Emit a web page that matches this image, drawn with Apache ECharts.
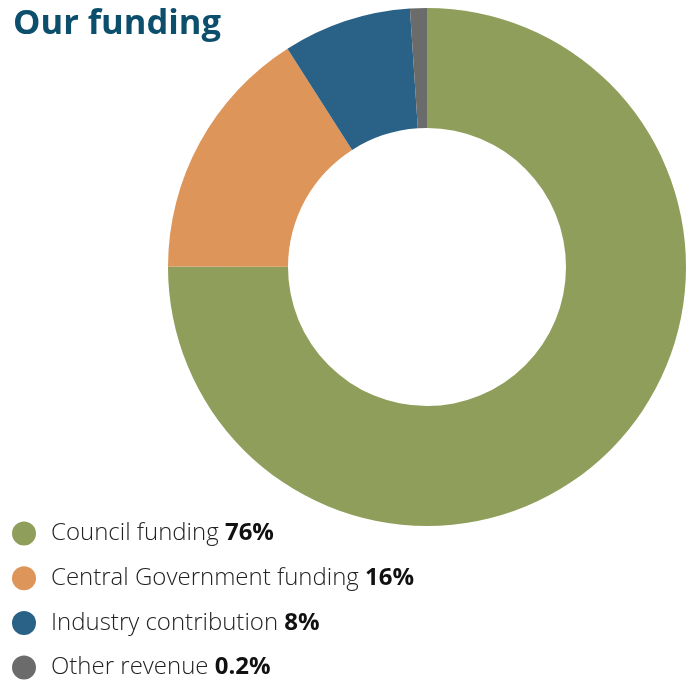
<!DOCTYPE html>
<html>
<head>
<meta charset="utf-8">
<script src="https://cdn.jsdelivr.net/npm/echarts@6/dist/echarts.min.js"></script>
<style>html,body{margin:0;padding:0;background:#fff;}#c{width:694px;height:680px;}</style>
</head>
<body>
<div id="c"></div>
<script>
const categories = ['Council funding', 'Central Government funding', 'Industry contribution', 'Other revenue'];
const drawnValues = [75, 15.9, 8.0, 1.05];
const labelPercents = ['76%', '16%', '8%', '0.2%'];
const colors = ['#8f9e5a', '#dd955a', '#2a6186', '#6b6b6b'];

const chart = echarts.init(document.getElementById('c'));
chart.setOption({
  animation: false,
  title: {
    text: 'Our funding',
    left: 8, top: 2,
    textStyle: { fontFamily: 'Open Sans', fontWeight: 'bold', fontSize: 34.5, color: '#0b4f6c' }
  },
  legend: {
    orient: 'vertical',
    left: 12, top: 521.5,
    height: 170,
    padding: 0,
    icon: 'circle',
    itemWidth: 24, itemHeight: 24,
    itemGap: 20.7,
    data: categories,
    formatter: function (name) {
      const i = categories.indexOf(name);
      return '{n|' + name + ' }{p|' + labelPercents[i] + '}';
    },
    textStyle: {
      rich: {
        n: { fontFamily: 'Open Sans', fontWeight: 300, fontSize: 24, color: '#222', padding: [0, 0, 0, 10] },
        p: { fontFamily: 'Open Sans', fontWeight: 'bold', fontSize: 24, color: '#111' }
      }
    }
  },
  series: [{
    type: 'pie',
    center: [427, 267],
    radius: [139, 259],
    startAngle: 90,
    clockwise: true,
    label: { show: false },
    labelLine: { show: false },
    emphasis: { disabled: true },
    data: categories.map((c, i) => ({ name: c, value: drawnValues[i], itemStyle: { color: colors[i] } }))
  }]
});
</script>
</body>
</html>
